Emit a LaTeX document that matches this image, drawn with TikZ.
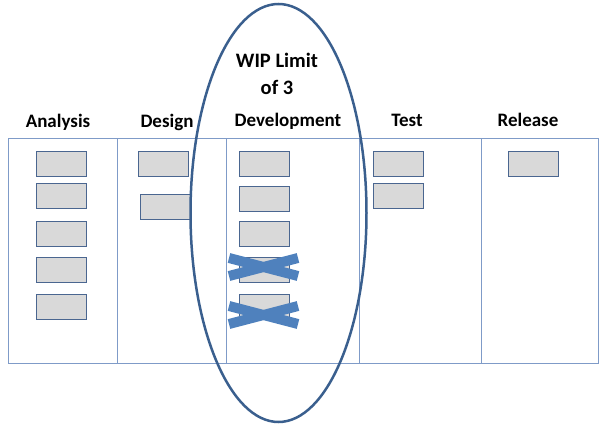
\documentclass[tikz,border=0pt]{standalone}
\usepackage{fontspec}
\setmainfont{Carlito}
\usetikzlibrary{shapes.geometric}
\definecolor{boardline}{HTML}{7F9BC8}
\definecolor{cardfill}{HTML}{D9D9D9}
\definecolor{cardline}{HTML}{4A6690}
\definecolor{ovalline}{HTML}{3A5F8E}
\definecolor{crossblue}{HTML}{4F81BD}
\tikzset{
  col/.style={draw=boardline, line width=1pt, minimum height=225pt, inner sep=0pt, anchor=north west},
  card/.style={draw=cardline, fill=cardfill, line width=1.2pt, minimum width=50pt, minimum height=25pt, inner sep=0pt, anchor=north west},
  head/.style={font=\bfseries\fontsize{19}{21}\selectfont, inner sep=0pt},
  wiphead/.style={font=\bfseries\fontsize{20.5}{22}\selectfont, inner sep=0pt},
  xstroke/.style={draw=crossblue, line width=10pt},
}
\begin{document}
\begin{tikzpicture}[x=1pt,y=-1pt]
\useasboundingbox (0,0) rectangle (606,426);
% columns
\node[col, minimum width=109pt] (c1) at (8,138) {};
\node[col, minimum width=109pt] (c2) at (117,138) {};
\node[col, minimum width=133pt] (c3) at (226,138) {};
\node[col, minimum width=122pt] (c4) at (359,138) {};
\node[col, minimum width=117pt] (c5) at (481,138) {};
% headers
\node[head] (h1) at (58,122) {Analysis};
\node[head] (h2) at (167,122) {Design};
\node[head] (h3) at (288,121) {Development};
\node[head] (h4) at (407,120) {Test};
\node[head] (h5) at (528,120) {Release};
% cards analysis
\node[card] (a1) at (36,151) {};
\node[card] (a2) at (36,183) {};
\node[card] (a3) at (36,221) {};
\node[card] (a4) at (36,257) {};
\node[card] (a5) at (36,294) {};
% design
\node[card] (d1) at (138,151) {};
\node[card] (d2) at (140,194) {};
% development
\node[card] (v1) at (239,151) {};
\node[card] (v2) at (239,186) {};
\node[card] (v3) at (239,221) {};
\node[card] (v4) at (239,257) {};
\node[card] (v5) at (239,294) {};
% test
\node[card] (t1) at (373,151) {};
\node[card] (t2) at (373,183) {};
% release
\node[card] (r1) at (508,151) {};
% crosses
\coordinate (x1a) at (229,258); \coordinate (x1b) at (298,276);
\coordinate (x1c) at (229,276); \coordinate (x1d) at (298,258);
\draw[xstroke] (x1a) -- (x1b);
\draw[xstroke] (x1c) -- (x1d);
\coordinate (x2a) at (229,306); \coordinate (x2b) at (298,324);
\coordinate (x2c) at (229,324); \coordinate (x2d) at (298,306);
\draw[xstroke] (x2a) -- (x2b);
\draw[xstroke] (x2c) -- (x2d);
% WIP oval
\node[ellipse, draw=ovalline, line width=2.5pt, minimum width=176pt, minimum height=418pt, inner sep=0pt] (wip) at (278.5,213) {};
\node[wiphead, align=center] (wiptext) at (277,74) {WIP Limit\\[5pt]of 3};
\end{tikzpicture}
\end{document}
